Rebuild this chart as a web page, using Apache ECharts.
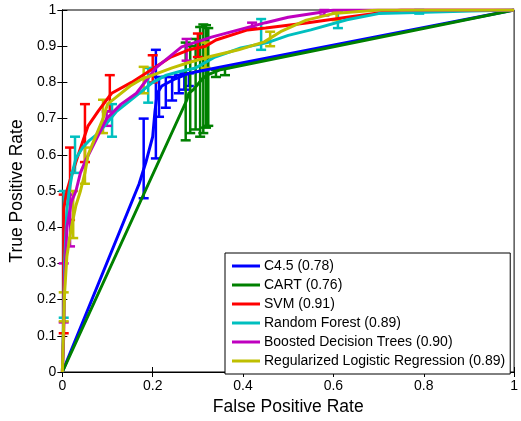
<!DOCTYPE html>
<html>
<head>
<meta charset="utf-8">
<script src="https://cdn.jsdelivr.net/npm/echarts@6/dist/echarts.min.js"></script>
<style>
  html, body { margin: 0; padding: 0; background: #fff; }
  #roc_chart { width: 521px; height: 421px; }
</style>
</head>
<body>
<div id="roc_chart"></div>
<script>
// model names + AUC shown in the legend
var modelNames = ['C4.5', 'CART', 'SVM', 'Random Forest', 'Boosted Decision Trees', 'Regularized Logistic Regression'];
var aucValues = ['0.78', '0.76', '0.91', '0.89', '0.90', '0.89'];
var modelColors = ['#0000ff', '#008000', '#ff0000', '#00bfbf', '#bf00bf', '#bfbf00'];

var xTicks = [0, 0.2, 0.4, 0.6, 0.8, 1];
var yTicks = [0, 0.1, 0.2, 0.3, 0.4, 0.5, 0.6, 0.7, 0.8, 0.9, 1];

// ROC curves [fpr, tpr]
var c45Curve = [[0,0],[0.17,0.52],[0.185,0.58],[0.2,0.65],[0.205,0.72],[0.21,0.77],[0.22,0.79],[0.25,0.81],[0.28,0.825],[0.3,0.83],[1,1]];
var cartCurve = [[0,0],[0.275,0.75],[0.28,0.77],[0.29,0.78],[0.30,0.795],[0.31,0.81],[0.32,0.82],[0.35,0.835],[1,1]];
var svmCurve = [[0,0],[0.003,0.1],[0.003,0.45],[0.01,0.50],[0.017,0.53],[0.03,0.58],[0.046,0.64],[0.057,0.68],[0.079,0.72],[0.109,0.77],[0.153,0.80],[0.197,0.835],[0.24,0.87],[0.28,0.89],[0.317,0.90],[0.34,0.917],[0.41,0.945],[0.45,0.95],[0.54,0.964],[0.63,0.98],[0.72,0.995],[0.75,1],[1,1]];
var rfCurve = [[0,0],[0.003,0.15],[0.005,0.3],[0.01,0.45],[0.015,0.5],[0.022,0.55],[0.03,0.59],[0.045,0.62],[0.06,0.64],[0.08,0.66],[0.1,0.69],[0.12,0.72],[0.15,0.75],[0.17,0.77],[0.2,0.8],[0.23,0.82],[0.26,0.83],[0.295,0.84],[0.338,0.87],[0.395,0.895],[0.454,0.91],[0.5,0.93],[0.55,0.945],[0.63,0.973],[0.70,0.99],[0.906,0.997],[1,1]];
var bdtCurve = [[0,0],[0.003,0.13],[0.005,0.25],[0.01,0.4],[0.02,0.47],[0.03,0.5],[0.04,0.55],[0.05,0.58],[0.07,0.63],[0.098,0.70],[0.13,0.74],[0.164,0.77],[0.207,0.84],[0.264,0.898],[0.33,0.925],[0.39,0.945],[0.45,0.965],[0.5,0.98],[0.58,0.995],[0.6,1],[1,1]];
var rlrCurve = [[0,0],[0.003,0.14],[0.005,0.22],[0.01,0.32],[0.02,0.40],[0.03,0.46],[0.04,0.5],[0.05,0.55],[0.057,0.6],[0.07,0.64],[0.09,0.70],[0.1,0.74],[0.12,0.76],[0.15,0.79],[0.177,0.81],[0.2,0.82],[0.243,0.84],[0.28,0.855],[0.323,0.87],[0.39,0.89],[0.447,0.912],[0.483,0.94],[0.54,0.972],[0.6,0.99],[0.7,1],[1,1]];

// error bars [fpr, low, high]
var c45Bars = [[0.18,0.48,0.70],[0.207,0.59,0.89],[0.214,0.705,0.815],[0.229,0.73,0.815],[0.243,0.75,0.815],[0.258,0.77,0.82],[0.27,0.78,0.825],[0.28,0.79,0.825]];
var cartBars = [[0.273,0.64,0.91],[0.283,0.66,0.90],[0.295,0.67,0.92],[0.305,0.65,0.953],[0.312,0.66,0.96],[0.318,0.675,0.958],[0.323,0.68,0.95],[0.34,0.815,0.835],[0.36,0.82,0.84]];
var svmBars = [[0.003,0.107,0.49],[0.017,0.42,0.62],[0.05,0.58,0.74],[0.105,0.72,0.82],[0.2,0.80,0.875],[0.30,0.87,0.935]];
var rfBars = [[0.003,0.15,0.5],[0.028,0.55,0.65],[0.11,0.65,0.74],[0.19,0.744,0.84],[0.44,0.89,0.975],[0.61,0.95,0.995],[0.79,0.99,1.0]];
var bdtBars = [[0.003,0.137,0.3],[0.017,0.347,0.49],[0.098,0.68,0.72],[0.275,0.86,0.92],[0.42,0.95,0.965],[0.58,0.985,1.0]];
var rlrBars = [[0.003,0.14,0.22],[0.024,0.37,0.5],[0.05,0.52,0.62],[0.09,0.66,0.752],[0.18,0.77,0.843],[0.317,0.84,0.91],[0.46,0.90,0.94],[0.607,0.972,0.995]];

var curves = [c45Curve, cartCurve, svmCurve, rfCurve, bdtCurve, rlrCurve];
var bars = [c45Bars, cartBars, svmBars, rfBars, bdtBars, rlrBars];

var rocChart = echarts.init(document.getElementById('roc_chart'));

function errorBarRender(color){
    return function(params, api){
        var lo = api.coord([api.value(0), api.value(1)]);
        var hi = api.coord([api.value(0), api.value(2)]);
        var w = 5;
        var st = {stroke: color, lineWidth: 2.5};
        return {
            type: 'group',
            children: [
                {type: 'line', shape: {x1: lo[0], y1: lo[1], x2: hi[0], y2: hi[1]}, style: st},
                {type: 'line', shape: {x1: lo[0]-w, y1: lo[1], x2: lo[0]+w, y2: lo[1]}, style: st},
                {type: 'line', shape: {x1: hi[0]-w, y1: hi[1], x2: hi[0]+w, y2: hi[1]}, style: st}
            ]
        };
    };
}

var legendNames = [];
var seriesList = [];
for (var i = 0; i < modelNames.length; i++) {
    var nm = modelNames[i] + ' (' + aucValues[i] + ')';
    legendNames.push(nm);
    seriesList.push({
        name: nm,
        type: 'line',
        data: curves[i],
        showSymbol: false,
        symbol: 'none',
        color: modelColors[i],
        lineStyle: {color: modelColors[i], width: 3},
        z: 2
    });
    seriesList.push({
        name: nm + ' err',
        type: 'custom',
        renderItem: errorBarRender(modelColors[i]),
        data: bars[i],
        encode: {x: 0, y: [1, 2]},
        z: 2
    });
}

var axisFont = {color: '#000', fontSize: 14, fontFamily: 'Liberation Sans, Arial, sans-serif'};

var roc_option = {
    animation: false,
    backgroundColor: '#fff',
    grid: {
        left: 62,
        right: 1,
        top: 10,
        bottom: 48,
        show: true,
        borderColor: '#000',
        borderWidth: 1
    },
    legend: {
        data: legendNames,
        orient: 'vertical',
        left: 225,
        top: 253,
        padding: [5, 5, 5, 7],
        itemWidth: 28,
        itemHeight: 3,
        itemGap: 3,
        icon: 'rect',
        backgroundColor: '#fff',
        borderColor: '#000',
        borderWidth: 1,
        selectedMode: false,
        textStyle: {color: '#000', fontSize: 14, lineHeight: 16, fontFamily: 'Liberation Sans, Arial, sans-serif', padding: [0, 0, 0, -1]}
    },
    xAxis: [
        {
            type: 'value', min: 0, max: 1, interval: 0.2, position: 'bottom',
            name: 'False Positive Rate', nameLocation: 'middle', nameGap: 26,
            nameTextStyle: {color: '#000', fontSize: 17.5, fontFamily: 'Liberation Sans, Arial, sans-serif'},
            axisLine: {lineStyle: {color: '#000', width: 1}},
            axisTick: {inside: true, length: 5, lineStyle: {color: '#000'}},
            axisLabel: {margin: 7, formatter: function(v){ return xTicks.indexOf(v) >= 0 ? String(v) : ''; }, ...axisFont},
            splitLine: {show: false}
        },
        {
            type: 'value', min: 0, max: 1, interval: 0.2, position: 'top',
            axisLine: {lineStyle: {color: '#000', width: 1}},
            axisTick: {inside: true, length: 5, lineStyle: {color: '#000'}},
            axisLabel: {show: false},
            splitLine: {show: false}
        }
    ],
    yAxis: [
        {
            type: 'value', min: 0, max: 1, interval: 0.1, position: 'left',
            name: 'True Positive Rate', nameLocation: 'middle', nameGap: 31,
            nameTextStyle: {color: '#000', fontSize: 17.5, fontFamily: 'Liberation Sans, Arial, sans-serif'},
            axisLine: {lineStyle: {color: '#000', width: 1}},
            axisTick: {inside: true, length: 5, lineStyle: {color: '#000'}},
            axisLabel: {margin: 6, formatter: function(v){ var r = Math.round(v*10)/10; return yTicks.indexOf(r) >= 0 ? String(r) : ''; }, ...axisFont},
            splitLine: {show: false}
        },
        {
            type: 'value', min: 0, max: 1, interval: 0.1, position: 'right',
            axisLine: {lineStyle: {color: '#000', width: 1}},
            axisTick: {inside: true, length: 5, lineStyle: {color: '#000'}},
            axisLabel: {show: false},
            splitLine: {show: false}
        }
    ],
    series: seriesList
};
rocChart.setOption(roc_option);
</script>
</body>
</html>
